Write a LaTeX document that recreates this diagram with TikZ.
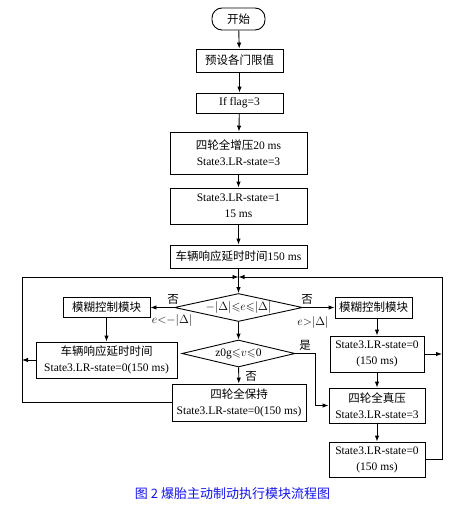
\documentclass[tikz,border=0pt]{standalone}
\usepackage{fontspec}
\usepackage{amssymb}
\usepackage{tikz}
\setmainfont{Liberation Serif}
\newfontfamily\cjk{Noto Sans CJK SC}
\usetikzlibrary{shapes.geometric,arrows.meta}
\definecolor{captionblue}{HTML}{1414F0}
\newcommand{\zh}[1]{{\cjk #1}}
\tikzset{
  block/.style={draw,line width=0.9pt,inner sep=0pt,align=center,
    font=\fontsize{11.5}{16}\selectfont},
  terminal/.style={block,rounded corners=10pt},
  decision/.style={draw,diamond,aspect=4.8,line width=0.9pt,inner sep=0pt,
    font=\fontsize{11.5}{14}\selectfont},
  flow/.style={draw,line width=0.9pt,-{Latex[length=6pt,width=4.5pt]}},
  wire/.style={draw,line width=0.9pt},
  tag/.style={font=\fontsize{11.5}{14}\selectfont,inner sep=1pt}
}

\begin{document}
\begin{tikzpicture}[x=1pt,y=-1pt]
  \useasboundingbox (0,0) rectangle (475,511);
  % main column
  \node[terminal,minimum width=53,minimum height=22] (start) at (238.5,19) {\zh{开始}};
  \node[block,minimum width=87,minimum height=23] (preset) at (239.5,60.5) {\zh{预设各门限值}};
  \node[block,minimum width=87,minimum height=20] (flag) at (239.5,103) {If flag=3};
  \node[block,minimum width=137,minimum height=42] (boost) at (238.5,153) {\zh{四轮全增压}20 ms\\State3.LR-state=3};
  \node[block,minimum width=137,minimum height=36] (state1) at (238.5,206) {State3.LR-state=1\\15 ms};
  \node[block,minimum width=137,minimum height=23] (delay) at (238.5,256.5) {\zh{车辆响应延时时间}150 ms};
  \coordinate (merge) at (238.5,277);
  \node[decision,minimum width=128,minimum height=28] (d1) at (238.5,307.5) {$-|\Delta|{\leqslant}e{\leqslant}|\Delta|$};
  \node[decision,minimum width=113,minimum height=27] (d2) at (238.5,353.5) {z0g${\leqslant}v{\leqslant}$0};
  \node[block,minimum width=134,minimum height=37] (hold) at (239,402.5) {\zh{四轮全保持}\\State3.LR-state=0(150 ms)};
  % left branch
  \node[block,minimum width=87,minimum height=20] (lfuzzy) at (106.5,307.5) {\zh{模糊控制模块}};
  \node[block,minimum width=141,minimum height=36] (ldelay) at (106.5,360) {\zh{车辆响应延时时间}\\State3.LR-state=0(150 ms)};
  % right branch
  \node[block,minimum width=77,minimum height=21] (rfuzzy) at (373.5,307.5) {\zh{模糊控制模块}};
  \node[block,minimum width=94,minimum height=36] (rrelease) at (377,354) {State3.LR-state=0\\(150 ms)};
  \node[block,minimum width=96,minimum height=35] (vacuum) at (377,405.5) {\zh{四轮全真压}\\State3.LR-state=3};
  \node[block,minimum width=96,minimum height=35] (rrelease2) at (377,459.5) {State3.LR-state=0\\(150 ms)};
  \coordinate (lrail) at (22,277);
  \coordinate (rrail) at (442,277);

  \draw[flow] (start) -- (preset);
  \draw[flow] (preset) -- (flag);
  \draw[flow] (flag) -- (boost);
  \draw[flow] (boost) -- (state1);
  \draw[flow] (state1) -- (delay);
  \draw[flow] (delay) -- (d1);
  \draw[flow] (d1) -- (d2);
  \draw[flow] (d2) -- (hold);
  \draw[flow] (d1.west) -- (lfuzzy.east);
  \draw[flow] (d1.east) -- (rfuzzy.west);
  \draw[flow] (lfuzzy) -- (ldelay);
  \draw[flow] (rrelease.north |- rfuzzy.south) -- (rrelease);
  \draw[flow] (rrelease) -- (vacuum);
  \draw[flow] (vacuum) -- (rrelease2);
  \draw[flow] (d2.east) -- (315,353.5) |- (vacuum.west);
  % loops back
  \draw[flow] (hold.west) -| (lrail) -- (merge);
  \draw[flow] (rrelease2.east) -| (rrail) -- (merge);
  \draw[flow] (ldelay.west) -- (lrail |- ldelay.west);
  \draw[flow] (rrelease.east) -- (rrail |- rrelease.east);

  \node[tag] (no1) at (173,299) {\zh{否}};
  \node[tag] (cond1) at (172,320) {$e{<}{-}|\Delta|$};
  \node[tag] (no2) at (307,299) {\zh{否}};
  \node[tag] (cond2) at (313,322) {$e{>}|\Delta|$};
  \node[tag] (yes3) at (305,345) {\zh{是}};
  \node[tag] (no3) at (251,376) {\zh{否}};
  \node[font=\cjk\fontsize{13}{15}\selectfont,text=captionblue] (caption) at (232.5,494) {图 2 爆胎主动制动执行模块流程图};
\end{tikzpicture}
\end{document}
